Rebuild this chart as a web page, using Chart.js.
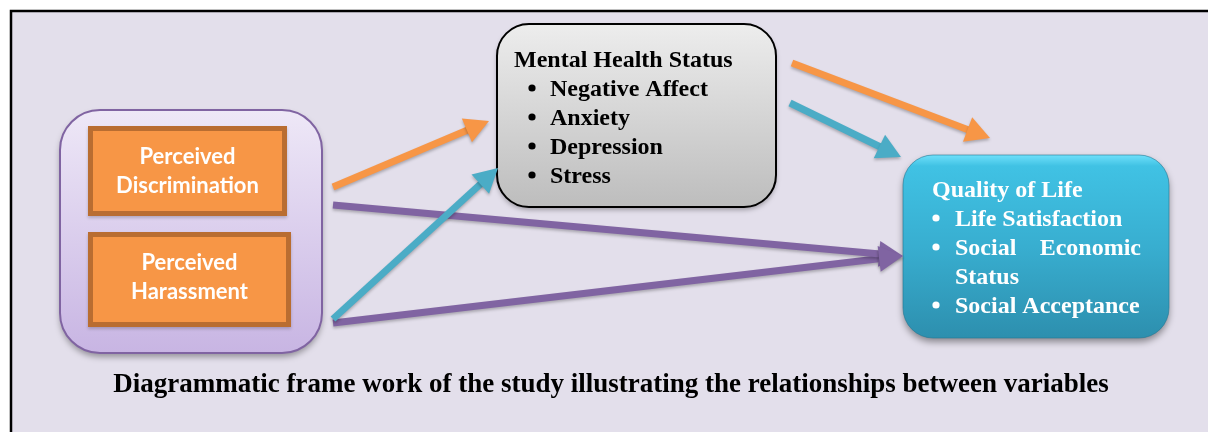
<!DOCTYPE html>
<html>
<head>
<meta charset="utf-8">
<script src="https://cdn.jsdelivr.net/npm/chart.js@4.4.1/dist/chart.umd.min.js"></script>
<style>
  html, body { margin: 0; padding: 0; background: #fff; }
  #wrap { width: 1208px; height: 432px; position: relative; }
</style>
</head>
<body>
<div id="wrap"><canvas id="grafico"></canvas></div>
<script>
// texts of the diagram
const sourceLabels = [["Perceived", "Discrimination"], ["Perceived", "Harassment"]];
const mediatorTitle = "Mental Health Status";
const mediatorItems = ["Negative Affect", "Anxiety", "Depression", "Stress"];
const outcomeTitle = "Quality of Life";
const outcomeItems = ["Life Satisfaction", "Social Economic Status", "Social Acceptance"];
const caption = "Diagrammatic frame work of the study illustrating the relationships between variables";

// paths between the variables (start and tip, in diagram units)
const arrowNames = ["PD -> MHS", "MHS -> QoL", "PH -> MHS", "MHS -> QoL (2)", "PD -> QoL", "PH -> QoL"];
const arrowStartX = [333, 792, 333, 790, 333, 333];
const arrowStartY = [187, 63, 319, 103, 205, 323];
const arrowEndX = [489, 990, 498, 901, 903, 903];
const arrowEndY = [121, 138, 168, 157, 256, 256];
const arrowColors = ["#f79646", "#f79646", "#4bacc6", "#4bacc6", "#8064a2", "#8064a2"];

// layout of the boxes
const layout = {
  frame: { x: 10, y: 10, w: 1198, h: 422 },
  group: { x: 60, y: 110, w: 262, h: 243, r: 40 },
  sources: [{ x: 88, y: 126, w: 199, h: 90, base: [164, 193] },
            { x: 88, y: 232, w: 203, h: 95, base: [270, 299] }],
  mediator: { x: 497, y: 24, w: 279, h: 183, r: 32, titleX: 514, bulletX: 532, textX: 550, base0: 67, step: 29 },
  outcome: { x: 903, y: 155, w: 266, h: 183, r: 30, titleX: 932, bulletX: 936, textX: 955, wrap: 186, base0: 197, step: 29 },
  captionX: 611, captionY: 392
};
const HEAD_LEN = 24, HEAD_W = 13;

const serif = "bold 24px 'Liberation Serif', 'Times New Roman', serif";
const captionFont = "bold 27px 'Liberation Serif', 'Times New Roman', serif";

function shaftEnd(i) {
  const dx = arrowEndX[i] - arrowStartX[i], dy = arrowEndY[i] - arrowStartY[i];
  const len = Math.hypot(dx, dy);
  return { x: arrowEndX[i] - dx / len * (HEAD_LEN - 4), y: arrowEndY[i] - dy / len * (HEAD_LEN - 4) };
}

function roundRect(ctx, x, y, w, h, r) {
  ctx.beginPath();
  ctx.moveTo(x + r, y);
  ctx.arcTo(x + w, y, x + w, y + h, r);
  ctx.arcTo(x + w, y + h, x, y + h, r);
  ctx.arcTo(x, y + h, x, y, r);
  ctx.arcTo(x, y, x + w, y, r);
  ctx.closePath();
}

function wrapLines(ctx, text, maxW) {
  const words = text.split(" ");
  const lines = [];
  let cur = [];
  words.forEach(w => {
    const test = cur.concat([w]).join(" ");
    if (cur.length && ctx.measureText(test).width > maxW) {
      lines.push(cur);
      cur = [w];
    } else cur.push(w);
  });
  if (cur.length) lines.push(cur);
  return lines;
}

function drawJustified(ctx, words, x, y, width, justify) {
  if (!justify || words.length < 2) {
    ctx.fillText(words.join(" "), x, y);
    return;
  }
  const total = words.reduce((s, w) => s + ctx.measureText(w).width, 0);
  const gap = (width - total) / (words.length - 1);
  let cx = x;
  words.forEach(w => {
    ctx.fillText(w, cx, y);
    cx += ctx.measureText(w).width + gap;
  });
}

const diagramPlugin = {
  id: "diagram",
  beforeDatasetsDraw(chart) {
    const ctx = chart.ctx;
    const xs = chart.scales.x, ys = chart.scales.y;
    const px = v => xs.getPixelForValue(v);
    const py = v => ys.getPixelForValue(v);

    // background and frame
    ctx.save();
    ctx.fillStyle = "#ffffff";
    ctx.fillRect(0, 0, chart.width, chart.height);
    const f = layout.frame;
    ctx.fillStyle = "#e3dfeb";
    ctx.fillRect(px(f.x), py(f.y), f.w, f.h);
    ctx.strokeStyle = "#000";
    ctx.lineWidth = 2.5;
    ctx.beginPath();
    ctx.moveTo(px(f.x) + 1, py(f.y + f.h));
    ctx.lineTo(px(f.x) + 1, py(f.y) + 1);
    ctx.lineTo(px(f.x + f.w), py(f.y) + 1);
    ctx.stroke();

    // group box for the predictors
    const g = layout.group;
    ctx.save();
    ctx.shadowColor = "rgba(0,0,0,0.35)";
    ctx.shadowBlur = 6;
    ctx.shadowOffsetY = 4;
    let grad = ctx.createLinearGradient(0, py(g.y), 0, py(g.y + g.h));
    grad.addColorStop(0, "#eee8f7");
    grad.addColorStop(1, "#c8b5e3");
    ctx.fillStyle = grad;
    roundRect(ctx, px(g.x), py(g.y), g.w, g.h, g.r);
    ctx.fill();
    ctx.restore();
    ctx.strokeStyle = "#8064a2";
    ctx.lineWidth = 2;
    roundRect(ctx, px(g.x), py(g.y), g.w, g.h, g.r);
    ctx.stroke();

    // orange predictor boxes
    layout.sources.forEach((s, i) => {
      ctx.save();
      ctx.shadowColor = "rgba(0,0,0,0.2)";
      ctx.shadowBlur = 3;
      ctx.shadowOffsetY = 2;
      ctx.fillStyle = "#f79646";
      ctx.fillRect(px(s.x), py(s.y), s.w, s.h);
      ctx.restore();
      ctx.strokeStyle = "#b96d31";
      ctx.lineWidth = 5;
      ctx.strokeRect(px(s.x) + 2.5, py(s.y) + 2.5, s.w - 5, s.h - 5);
      ctx.fillStyle = "#ffffff";
      ctx.font = "bold 22px Lato, 'Open Sans', sans-serif";
      ctx.textAlign = "center";
      ctx.textBaseline = "alphabetic";
      sourceLabels[i].forEach((t, k) => ctx.fillText(t, px(s.x + s.w / 2), py(s.base[k])));
    });

    // mediator box
    const m = layout.mediator;
    ctx.save();
    ctx.shadowColor = "rgba(0,0,0,0.3)";
    ctx.shadowBlur = 5;
    ctx.shadowOffsetY = 3;
    grad = ctx.createLinearGradient(0, py(m.y), 0, py(m.y + m.h));
    grad.addColorStop(0, "#ededed");
    grad.addColorStop(1, "#bdbdbd");
    ctx.fillStyle = grad;
    roundRect(ctx, px(m.x), py(m.y), m.w, m.h, m.r);
    ctx.fill();
    ctx.restore();
    ctx.strokeStyle = "#000";
    ctx.lineWidth = 2;
    roundRect(ctx, px(m.x), py(m.y), m.w, m.h, m.r);
    ctx.stroke();
    ctx.fillStyle = "#000";
    ctx.font = serif;
    ctx.textAlign = "left";
    ctx.fillText(mediatorTitle, px(m.titleX), py(m.base0));
    mediatorItems.forEach((t, k) => {
      const y = py(m.base0 + m.step * (k + 1));
      ctx.beginPath();
      ctx.arc(px(m.bulletX), y - 8, 3.6, 0, Math.PI * 2);
      ctx.fill();
      ctx.fillText(t, px(m.textX), y);
    });

    // outcome box
    const o = layout.outcome;
    ctx.save();
    ctx.shadowColor = "rgba(0,0,0,0.4)";
    ctx.shadowBlur = 7;
    ctx.shadowOffsetY = 4;
    grad = ctx.createLinearGradient(0, py(o.y), 0, py(o.y + o.h));
    grad.addColorStop(0, "#6fe0fa");
    grad.addColorStop(0.06, "#40c2e4");
    grad.addColorStop(0.5, "#38aed0");
    grad.addColorStop(1, "#2d8fae");
    ctx.fillStyle = grad;
    roundRect(ctx, px(o.x), py(o.y), o.w, o.h, o.r);
    ctx.fill();
    ctx.restore();
    ctx.strokeStyle = "rgba(35,120,148,0.6)";
    ctx.lineWidth = 1;
    roundRect(ctx, px(o.x), py(o.y), o.w, o.h, o.r);
    ctx.stroke();
    ctx.fillStyle = "#ffffff";
    ctx.font = serif;
    ctx.fillText(outcomeTitle, px(o.titleX), py(o.base0));
    let line = 1;
    outcomeItems.forEach(t => {
      const lines = wrapLines(ctx, t, o.wrap);
      const yb = py(o.base0 + o.step * line);
      ctx.beginPath();
      ctx.arc(px(o.bulletX), yb - 8, 3.6, 0, Math.PI * 2);
      ctx.fill();
      lines.forEach((words, k) => {
        drawJustified(ctx, words, px(o.textX), py(o.base0 + o.step * line), o.wrap, k < lines.length - 1);
        line++;
      });
    });

    // caption
    ctx.fillStyle = "#000";
    ctx.font = captionFont;
    ctx.textAlign = "center";
    ctx.fillText(caption, px(layout.captionX), py(layout.captionY));
    ctx.restore();

    // soft shadow under the arrow shafts
    ctx.save();
    ctx.shadowColor = "rgba(0,0,0,0.25)";
    ctx.shadowBlur = 3;
    ctx.shadowOffsetY = 2;
  },
  afterDatasetsDraw(chart) {
    const ctx = chart.ctx;
    const xs = chart.scales.x, ys = chart.scales.y;
    arrowNames.forEach((n, i) => {
      const tx = xs.getPixelForValue(arrowEndX[i]), ty = ys.getPixelForValue(arrowEndY[i]);
      const sx = xs.getPixelForValue(arrowStartX[i]), sy = ys.getPixelForValue(arrowStartY[i]);
      const a = Math.atan2(ty - sy, tx - sx);
      const bx = tx - Math.cos(a) * HEAD_LEN, by = ty - Math.sin(a) * HEAD_LEN;
      ctx.fillStyle = arrowColors[i];
      ctx.beginPath();
      ctx.moveTo(tx, ty);
      ctx.lineTo(bx + Math.sin(a) * HEAD_W, by - Math.cos(a) * HEAD_W);
      ctx.lineTo(bx - Math.sin(a) * HEAD_W, by + Math.cos(a) * HEAD_W);
      ctx.closePath();
      ctx.fill();
    });
    ctx.restore();
  }
};

new Chart(document.getElementById("grafico"), {
  type: "scatter",
  data: {
    datasets: arrowNames.map((n, i) => ({
      label: n,
      data: [{ x: arrowStartX[i], y: arrowStartY[i] }, shaftEnd(i)],
      showLine: true,
      borderColor: arrowColors[i],
      backgroundColor: arrowColors[i],
      borderWidth: 7,
      borderCapStyle: "butt",
      pointRadius: 0,
      pointHoverRadius: 0
    }))
  },
  options: {
    responsive: true,
    maintainAspectRatio: false,
    animation: false,
    layout: { padding: 0 },
    scales: {
      x: { type: "linear", min: 0, max: 1208, display: false },
      y: { type: "linear", min: 0, max: 432, reverse: true, display: false }
    },
    plugins: { legend: { display: false }, tooltip: { enabled: false } },
    events: []
  },
  plugins: [diagramPlugin]
});
</script>
</body>
</html>
